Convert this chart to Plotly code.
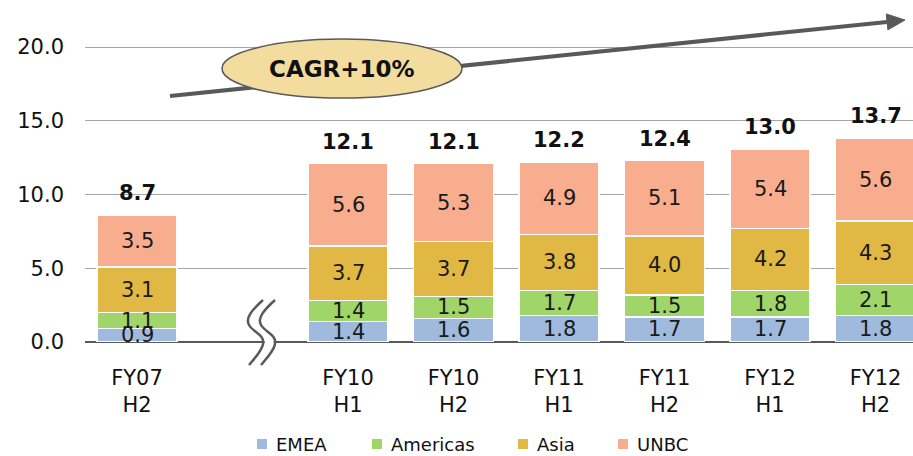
import plotly.graph_objects as go

# Half-year periods; an empty slot separates FY07 from FY10 (axis break)
periods = ["FY07<br>H2", "FY10<br>H1", "FY10<br>H2", "FY11<br>H1", "FY11<br>H2", "FY12<br>H1", "FY12<br>H2"]
slots = [0, 2, 3, 4, 5, 6, 7]

emea = [0.9, 1.4, 1.6, 1.8, 1.7, 1.7, 1.8]
americas = [1.1, 1.4, 1.5, 1.7, 1.5, 1.8, 2.1]
asia = [3.1, 3.7, 3.7, 3.8, 4.0, 4.2, 4.3]
unbc = [3.5, 5.6, 5.3, 4.9, 5.1, 5.4, 5.6]
totals = [8.7, 12.1, 12.1, 12.2, 12.4, 13.0, 13.7]

series = [
    ("EMEA", emea, "#9FBADD"),
    ("Americas", americas, "#A0D56A"),
    ("Asia", asia, "#E2B845"),
    ("UNBC", unbc, "#F9AD8F"),
]

# Figure geometry
W, H = 913, 456
M_L, M_R, M_T, M_B = 85, 0, 0, 114
PLOT_W, PLOT_H = W - M_L - M_R, H - M_T - M_B
X_RANGE = [-0.493, 7.355]
Y_RANGE = [0, 23.19]
px_per_x = PLOT_W / (X_RANGE[1] - X_RANGE[0])
px_per_y = PLOT_H / (Y_RANGE[1] - Y_RANGE[0])


def paper_x(px):
    return (px - M_L) / PLOT_W


def paper_y(py):
    return (H - M_B - py) / PLOT_H


FONT = "DejaVu Sans"
GREY = "#595959"
TEXT = "#111111"

fig = go.Figure()
for name, vals, color in series:
    fig.add_trace(go.Bar(
        name=name, x=slots, y=vals, width=0.76,
        marker=dict(color=color, line=dict(color="white", width=1.5)),
        hoverinfo="skip", showlegend=False,
    ))

annotations = []
# Segment value labels at the middle of each stacked segment
base = [0.0] * len(slots)
for name, vals, color in series:
    for i, v in enumerate(vals):
        annotations.append(dict(
            x=slots[i], y=base[i] + v / 2, text=f"{v:.1f}", showarrow=False,
            font=dict(family=FONT, size=21, color="#1a1a1a"),
        ))
        base[i] += v

# Totals above each stack
for i, t in enumerate(totals):
    annotations.append(dict(
        x=slots[i], y=base[i], text=f"<b>{t:.1f}</b>", showarrow=False,
        yanchor="bottom", yshift=8,
        font=dict(family=FONT, size=21, color=TEXT),
    ))

# CAGR label inside the ellipse
ELLIPSE_CENTER = (1.943, 18.54)
annotations.append(dict(
    x=ELLIPSE_CENTER[0], y=ELLIPSE_CENTER[1], text="<b>CAGR+10%</b>", showarrow=False,
    font=dict(family=FONT, size=23, color=TEXT),
))

# Trend arrow: line body ending at the arrowhead base, then a filled head
ARROW_TAIL = (0.313, 16.68)
ARROW_TIP = (7.279, 21.83)
dxp = (ARROW_TIP[0] - ARROW_TAIL[0]) * px_per_x
dyp = (ARROW_TIP[1] - ARROW_TAIL[1]) * px_per_y
L = (dxp ** 2 + dyp ** 2) ** 0.5
ux, uy = dxp / L, dyp / L
nx, ny = -uy, ux
head_len, head_half = 18, 8
bx, by = -head_len * ux, -head_len * uy
head_path = (f"M 0,0 L {bx + head_half * nx:.2f},{by + head_half * ny:.2f} "
             f"L {bx - head_half * nx:.2f},{by - head_half * ny:.2f} Z")

shapes = [
    dict(type="line", xref="x", yref="y",
         x0=ARROW_TAIL[0], y0=ARROW_TAIL[1],
         x1=ARROW_TIP[0] + bx / px_per_x, y1=ARROW_TIP[1] + by / px_per_y,
         line=dict(color=GREY, width=4), layer="above"),
    dict(type="path", xref="x", yref="y", xsizemode="pixel", ysizemode="pixel",
         xanchor=ARROW_TIP[0], yanchor=ARROW_TIP[1], path=head_path,
         fillcolor=GREY, line=dict(color=GREY, width=1), layer="above"),
    dict(type="circle", xref="x", yref="y", xsizemode="pixel", ysizemode="pixel",
         xanchor=ELLIPSE_CENTER[0], yanchor=ELLIPSE_CENTER[1],
         x0=-120, x1=120, y0=-29.5, y1=29.5,
         fillcolor="#F2DC9E", line=dict(color=GREY, width=1.5), layer="above"),
]

# Axis-break mark between FY07 and FY10 (paper-referenced so it is not clipped)
BREAK_PX = 262
curve = "M {a},42 C {b},32 {c},24 {d},17 C {e},10 {f},7 {a},-2 C {g},-9 {h},-17 {d},-23"


def s_curve(off):
    return curve.format(a=1 + off, b=-10 + off, c=-17 + off, d=-13 + off,
                        e=-9 + off, f=3 + off, g=0 + off, h=-8 + off)


shapes.append(dict(type="path", xref="paper", yref="paper", xsizemode="pixel", ysizemode="pixel",
                   xanchor=paper_x(BREAK_PX), yanchor=0, path=s_curve(6),
                   line=dict(color="white", width=9), layer="above"))
for off in (0, 12):
    shapes.append(dict(type="path", xref="paper", yref="paper", xsizemode="pixel", ysizemode="pixel",
                       xanchor=paper_x(BREAK_PX), yanchor=0, path=s_curve(off),
                       line=dict(color=GREY, width=2.5), layer="above"))

# Legend row: colour swatch followed by the series name
LEGEND_Y = 444
legend_swatch_px = [262, 377, 523, 623]
for (name, vals, color), sx in zip(series, legend_swatch_px):
    shapes.append(dict(type="rect", xref="paper", yref="paper", xsizemode="pixel", ysizemode="pixel",
                       xanchor=paper_x(sx), yanchor=paper_y(LEGEND_Y),
                       x0=-5, x1=5, y0=-5, y1=5, fillcolor=color, line=dict(width=0)))
    annotations.append(dict(x=paper_x(sx + 12), y=paper_y(LEGEND_Y), xref="paper", yref="paper",
                            text=name, showarrow=False, xanchor="left", yanchor="middle",
                            font=dict(family=FONT, size=18, color=TEXT)))

fig.update_layout(
    width=W, height=H, barmode="stack", bargap=0.24,
    margin=dict(l=M_L, r=M_R, t=M_T, b=M_B, pad=0, autoexpand=False),
    paper_bgcolor="white", plot_bgcolor="white",
    font=dict(family=FONT, size=21, color=TEXT),
    showlegend=False,
    xaxis=dict(range=X_RANGE, tickvals=slots, ticktext=periods, showgrid=False,
               zeroline=False, showline=False, ticks="", ticklabelstandoff=21,
               tickfont=dict(family=FONT, size=21, color=TEXT)),
    yaxis=dict(range=Y_RANGE, tickvals=[0, 5, 10, 15, 20],
               ticktext=["0.0", "5.0", "10.0", "15.0", "20.0"],
               showgrid=True, gridcolor="#A6A6A6", gridwidth=1,
               zeroline=True, zerolinecolor=GREY, zerolinewidth=2,
               showline=False, ticks="", ticklabelstandoff=20,
               tickfont=dict(family=FONT, size=21, color=TEXT)),
    annotations=annotations, shapes=shapes,
)

fig.write_html("out.html")
